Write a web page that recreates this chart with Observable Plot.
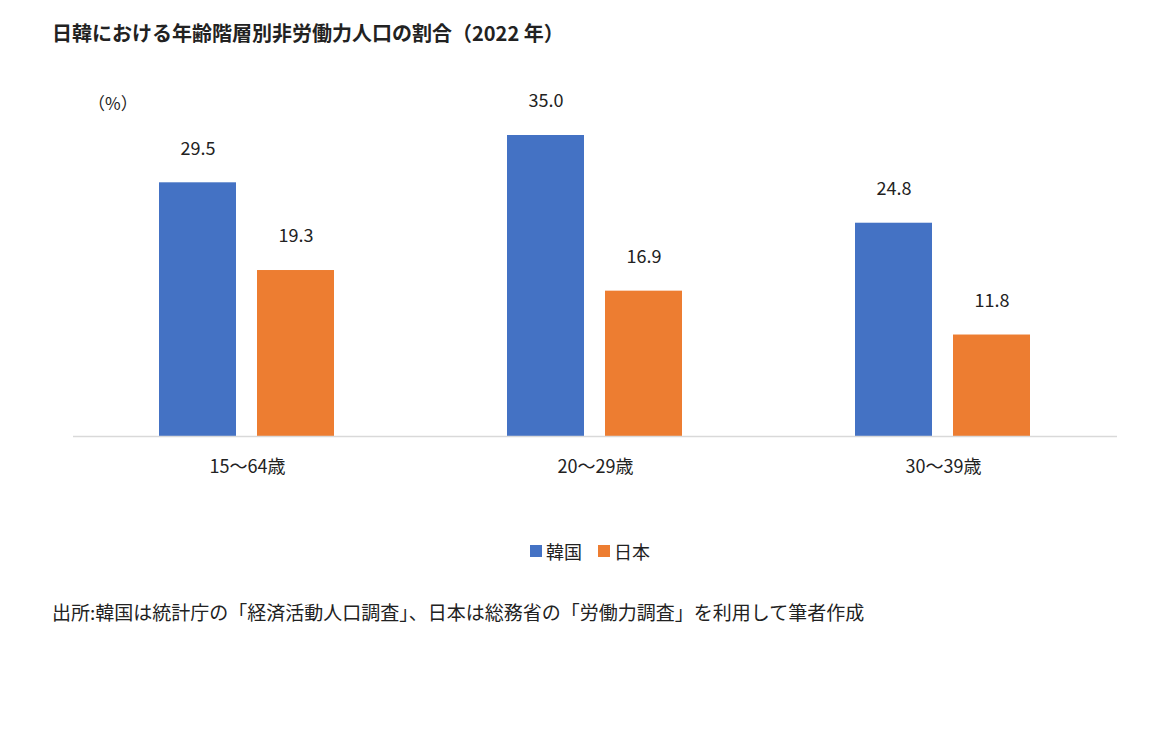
<!DOCTYPE html>
<html><head><meta charset="utf-8">
<script src="https://cdn.jsdelivr.net/npm/d3@7"></script>
<script src="https://cdn.jsdelivr.net/npm/@observablehq/plot@0.6"></script>
<style>
body{margin:0;background:#fff;font-family:"Noto Sans CJK JP",sans-serif;width:1170px;height:735px;position:relative;overflow:hidden}
.abs{position:absolute;white-space:nowrap;color:#222}
</style></head><body>
<div class="abs" style="left:52px;top:18px;font-size:20px;font-weight:bold">日韓における年齢階層別非労働力人口の割合（2022 年）</div>
<div id="chart" class="abs" style="left:0;top:0"></div>
<div class="abs" style="left:88px;top:90px;font-size:17px">（%）</div>
<div class="abs" style="left:530px;top:538px;font-size:18px;display:flex;align-items:center;gap:4px">
<span style="display:inline-block;width:12px;height:12px;background:#4472C4"></span>韓国
<span style="display:inline-block;width:12px;height:12px;background:#ED7D31;margin-left:12px"></span>日本</div>
<div class="abs" style="left:52px;top:598px;font-size:19px">出所:韓国は統計庁の「経済活動人口調査」、日本は総務省の「労働力調査」を利用して筆者作成</div>
<script>
const ageGroups = ["15～64歳","20～29歳","30～39歳"];
const countries = ["韓国","日本"];
const korea = [29.5,35.0,24.8];
const japan = [19.3,16.9,11.8];
const colors = ["#4472C4","#ED7D31"];
const data = [];
ageGroups.forEach((g,i)=>{data.push({g,c:"韓国",v:korea[i]});data.push({g,c:"日本",v:japan[i]});});
const chart = Plot.plot({
  width:1170,height:500,marginLeft:73,marginRight:53,marginTop:92,marginBottom:64,
  style:{fontFamily:"Noto Sans CJK JP",fontSize:"18px",color:"#222"},
  fx:{domain:ageGroups,padding:0,label:null,axis:"bottom",tickSize:0,tickPadding:24},
  x:{domain:countries,paddingInner:0.212,paddingOuter:0.864,axis:null},
  y:{domain:[0,40],axis:null},
  color:{domain:countries,range:colors},
  marks:[
    Plot.barY(data,{fx:"g",x:"c",y:"v",fill:"c"}),
    Plot.text(data,{fx:"g",x:"c",y:"v",text:d=>d.v.toFixed(1),dy:-34,fontSize:18,fill:"#222"}),
    Plot.ruleY([0],{stroke:"#d9d9d9",strokeWidth:1.5})
  ]
});
document.getElementById("chart").appendChild(chart);
</script>
</body></html>
